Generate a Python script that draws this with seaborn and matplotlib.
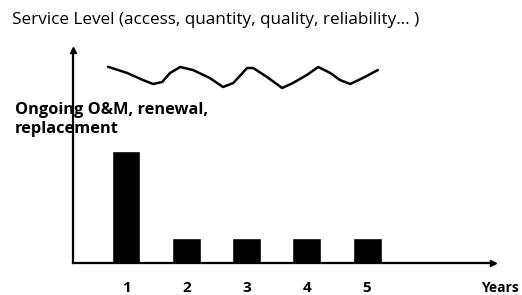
import numpy as np
import pandas as pd
import seaborn as sns
import matplotlib.pyplot as plt

# Data
years = [1, 2, 3, 4, 5]
spend = [4.5, 1.0, 1.0, 1.0, 1.0]

# Service level wave (x in years, y in same units as bars)
wave_x = [0.70, 1.02, 1.28, 1.45, 1.60, 1.73, 1.90, 2.11, 2.39, 2.61, 2.78, 3.01,
          3.11, 3.34, 3.59, 3.77, 4.00, 4.19, 4.39, 4.55, 4.72, 4.93, 5.18]
wave_y = [7.85, 7.60, 7.32, 7.16, 7.24, 7.60, 7.84, 7.72, 7.40, 7.04, 7.20, 7.80,
          7.80, 7.44, 7.00, 7.20, 7.52, 7.84, 7.60, 7.32, 7.16, 7.40, 7.72]

title_text = "Service Level (access, quantity, quality, reliability\u2026 )"
bar_label = "Ongoing O&M, renewal,\nreplacement"

sns.set_style("white")
plt.rcParams['font.family'] = ['Open Sans', 'DejaVu Sans']
plt.rcParams['text.color'] = 'black'
plt.rcParams['xtick.color'] = 'black'

fig = plt.figure(figsize=(5.22, 2.95), dpi=100)
ax = fig.add_axes([73 / 522, 32 / 295, 420 / 522, 213 / 295])

df = pd.DataFrame({'year': years, 'spend': spend})
sns.barplot(data=df, x='year', y='spend', native_scale=True, width=0.48,
            color='black', saturation=1, ax=ax)

wave = pd.DataFrame({'x': wave_x, 'y': wave_y})
sns.lineplot(data=wave, x='x', y='y', sort=False, color='black', lw=1.8, ax=ax)

ax.set_xlim(0.12, 7.09)
ax.set_ylim(0, 8.52)

# axes with arrow heads
for side in ['top', 'right']:
    ax.spines[side].set_visible(False)
for side in ['left', 'bottom']:
    ax.spines[side].set_linewidth(1.6)
    ax.spines[side].set_color('black')
ax.plot(1, 0, '>k', ms=5, transform=ax.transAxes, clip_on=False)
ax.plot(0, 1, '^k', ms=5, transform=ax.transAxes, clip_on=False)

ax.set_xticks(years)
ax.set_xticklabels([str(y) for y in years], fontweight='bold', fontsize=11)
ax.tick_params(axis='x', length=0, pad=13)
ax.set_yticks([])
ax.set_xlabel('')
ax.set_ylabel('')

fig.text(481 / 522, 1 - 288 / 295, "Years", fontsize=10, fontweight='bold',
         ha='left', va='center')
fig.text(12 / 522, 1 - 20 / 295, title_text, fontsize=12.3, ha='left', va='center')
fig.text(15 / 522, 1 - 119 / 295, bar_label, fontsize=11.8, fontweight='bold',
         ha='left', va='center', linespacing=1.25)

fig.savefig('out.png', dpi=100)
